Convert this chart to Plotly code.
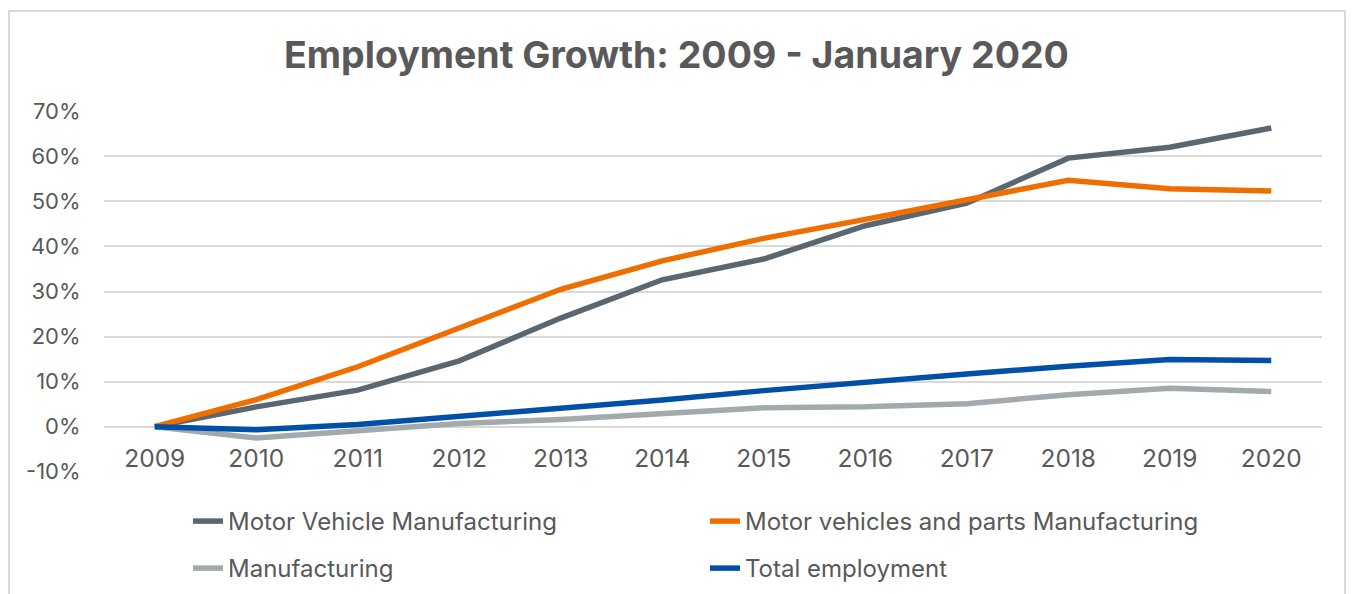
import plotly.graph_objects as go

years = ["2009", "2010", "2011", "2012", "2013", "2014", "2015", "2016", "2017", "2018", "2019", "2020"]

motor_vehicle = [0.0, 4.4, 8.1, 14.6, 24.1, 32.6, 37.2, 44.6, 49.6, 59.6, 62.0, 66.3]
motor_parts = [0.0, 6.0, 13.3, 22.0, 30.5, 36.8, 41.8, 46.0, 50.4, 54.7, 52.8, 52.3]
manufacturing = [0.0, -2.5, -0.9, 0.7, 1.6, 2.9, 4.2, 4.4, 5.1, 7.1, 8.5, 7.8]
total_employment = [0.0, -0.7, 0.5, 2.2, 3.9, 5.9, 8.0, 10.0, 11.7, 13.4, 14.9, 14.7]

y_tick_values = [-0.1, 0, 0.1, 0.2, 0.3, 0.4, 0.5, 0.6, 0.7]
y_tick_labels = ["-10%", "0%", "10%", "20%", "30%", "40%", "50%", "60%", "70%"]

names = ["Motor Vehicle Manufacturing", "Motor vehicles and parts Manufacturing",
         "Manufacturing", "Total employment"]
colors = ["#5b6770", "#f06e00", "#a3aaae", "#0050a8"]
series = [motor_vehicle, motor_parts, manufacturing, total_employment]
legends = ["legend", "legend", "legend2", "legend2"]

FONT = "Inter"
TXT = "#595959"

fig = go.Figure()
for name, vals, col, lg in zip(names, series, colors, legends):
    fig.add_trace(go.Scatter(
        x=years, y=[v / 100 for v in vals], name=name, mode="lines",
        line=dict(color=col, width=5.5), legend=lg,
    ))

W, H = 1353, 594
L, R, T, B = 104, 31, 111, 122
pw, ph = W - L - R, H - T - B

def px_x(p):
    return (p - L) / pw

def px_y(p):
    return (H - B - p) / ph

fig.update_layout(
    width=W, height=H,
    margin=dict(l=L, r=R, t=T, b=B, autoexpand=False),
    paper_bgcolor="white", plot_bgcolor="white",
    font=dict(family=FONT, color=TXT, size=22),
    title=dict(text="<b>Employment Growth: 2009 - January 2020</b>",
               x=0.5, xanchor="center", y=1 - 55 / H, yanchor="middle",
               font=dict(size=37.5, color=TXT, family=FONT)),
    xaxis=dict(type="category", range=[-0.5, 11.5], showgrid=False,
               anchor="free", position=0.125, showline=False, zeroline=False,
               ticks="outside", ticklen=10, tickcolor="rgba(0,0,0,0)",
               tickfont=dict(size=24.5, color=TXT)),
    yaxis=dict(range=[-0.1006, 0.7006], tickvals=y_tick_values, ticktext=y_tick_labels,
               showgrid=True, gridcolor="#d9d9d9", gridwidth=1.5,
               zeroline=True, zerolinecolor="#d9d9d9", zerolinewidth=1.5,
               showline=False, ticks="outside", ticklen=18, tickcolor="rgba(0,0,0,0)",
               tickfont=dict(size=22, color=TXT)),
    legend=dict(orientation="h", x=px_x(188), xanchor="left", y=px_y(499), yanchor="top",
                entrywidth=472, entrywidthmode="pixels", font=dict(size=24, color=TXT),
                bgcolor="rgba(0,0,0,0)"),
    legend2=dict(orientation="h", x=px_x(188), xanchor="left", y=px_y(546), yanchor="top",
                 entrywidth=472, entrywidthmode="pixels", font=dict(size=24, color=TXT),
                 bgcolor="rgba(0,0,0,0)"),
    showlegend=True,
    shapes=[dict(type="rect", xref="paper", yref="paper",
                 x0=px_x(9), x1=px_x(1345), y0=px_y(610), y1=px_y(11),
                 line=dict(color="#d9d9d9", width=2), fillcolor="rgba(0,0,0,0)", layer="below")],
)

fig.write_html("out.html", config={"displayModeBar": False},
               post_script="document.body.style.margin='0';document.body.style.padding='0';")
